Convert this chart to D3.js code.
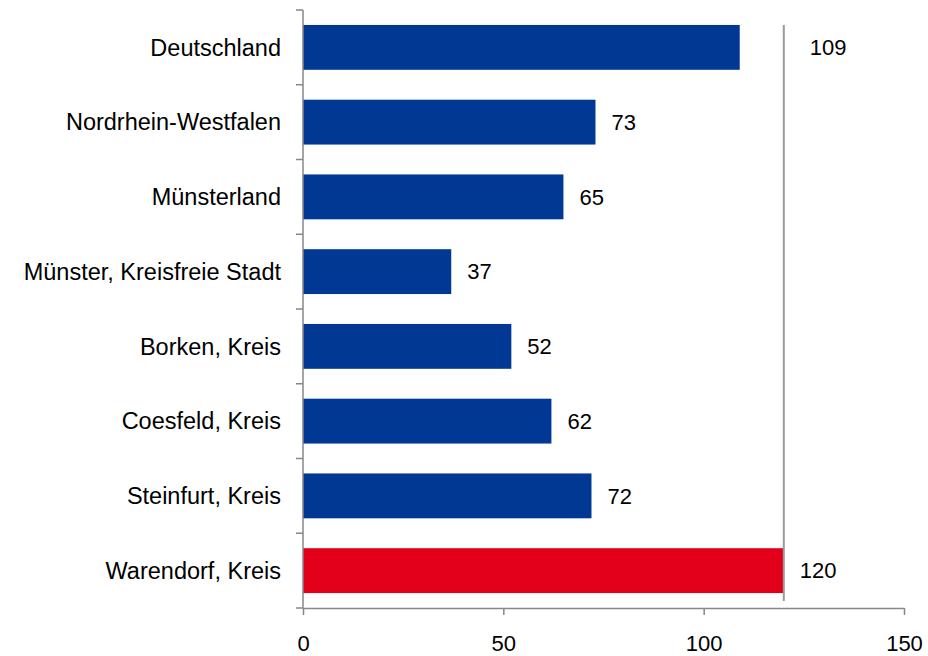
<!DOCTYPE html>
<html>
<head>
<meta charset="utf-8">
<script src="https://cdn.jsdelivr.net/npm/d3@7"></script>
<style>
  body { margin: 0; background: #fff; }
  text { font-family: "Liberation Sans", Arial, sans-serif; fill: #000; }
</style>
</head>
<body>
<div id="chart"></div>
<script>
// Data
const regions = ["Deutschland", "Nordrhein-Westfalen", "Münsterland", "Münster, Kreisfreie Stadt",
                 "Borken, Kreis", "Coesfeld, Kreis", "Steinfurt, Kreis", "Warendorf, Kreis"];
const values = [109, 73, 65, 37, 52, 62, 72, 120];
const highlight = "Warendorf, Kreis";
const xTicks = [0, 50, 100, 150];

const data = regions.map((r, i) => ({ region: r, value: values[i] }));
const refValue = values[regions.indexOf(highlight)];

// Dimensions
const W = 928, H = 656;
const margin = { top: 10, right: 24, bottom: 48, left: 303 };

const svg = d3.select("#chart")
    .append("svg")
    .attr("width", W)
    .attr("height", H);

const x = d3.scaleLinear()
    .domain([0, 150])
    .range([margin.left, W - margin.right]);

const y = d3.scaleBand()
    .domain(regions)
    .range([margin.top, H - margin.bottom])
    .paddingInner(0.4)
    .paddingOuter(0.2);

const axisColor = "#878787";
const fontSize = 22;

// Bars
svg.selectAll("rect.bar")
    .data(data)
    .enter()
    .append("rect")
    .attr("class", "bar")
    .attr("x", x(0))
    .attr("y", d => y(d.region))
    .attr("width", d => x(d.value) - x(0))
    .attr("height", y.bandwidth())
    .attr("fill", d => d.region === highlight ? "#e2001a" : "#003893");

// Reference line at the highlighted value
const refX = x(refValue);
svg.append("line")
    .attr("x1", refX).attr("x2", refX)
    .attr("y1", y(regions[0]))
    .attr("y2", H - margin.bottom - 7)
    .attr("stroke", "#9a9a9a")
    .attr("stroke-width", 2);

// Value labels (moved past the reference line if they would cross it)
svg.selectAll("text.val")
    .data(data)
    .enter()
    .append("text")
    .attr("class", "val")
    .attr("x", d => {
        const lx = x(d.value) + 16;
        return (d.value < refValue && lx + 36 > refX) ? refX + 26 : lx;
    })
    .attr("y", d => y(d.region) + y.bandwidth() / 2)
    .attr("dy", "0.35em")
    .style("font-size", fontSize + "px")
    .text(d => d.value);

// Y axis: line + ticks at band boundaries
const bottomY = H - margin.bottom;
svg.append("line")
    .attr("x1", margin.left).attr("x2", margin.left)
    .attr("y1", margin.top).attr("y2", bottomY)
    .attr("stroke", axisColor).attr("stroke-width", 1.5);

const bounds = regions.map(r => y(r) - y.step() * y.paddingInner() / 2).concat([bottomY]);
bounds[0] = margin.top;
svg.selectAll("line.ytick")
    .data(bounds)
    .enter()
    .append("line")
    .attr("class", "ytick")
    .attr("x1", margin.left - 7).attr("x2", margin.left)
    .attr("y1", d => d).attr("y2", d => d)
    .attr("stroke", axisColor).attr("stroke-width", 1.5);

svg.selectAll("text.cat")
    .data(regions)
    .enter()
    .append("text")
    .attr("class", "cat")
    .attr("x", margin.left - 22)
    .attr("y", d => y(d) + y.bandwidth() / 2)
    .attr("dy", "0.35em")
    .attr("text-anchor", "end")
    .style("font-size", "23.5px")
    .text(d => d);

// X axis
const xAxis = svg.append("g")
    .attr("transform", `translate(0,${bottomY})`)
    .call(d3.axisBottom(x).tickValues(xTicks).tickSize(7).tickPadding(20).tickSizeOuter(0));

xAxis.select(".domain").attr("stroke", axisColor).attr("stroke-width", 1.5);
xAxis.selectAll(".tick line").attr("stroke", axisColor).attr("stroke-width", 1.5);
xAxis.selectAll(".tick text")
    .style("font-size", fontSize + "px")
    .style("font-family", "'Liberation Sans', Arial, sans-serif")
    .attr("fill", "#000");
</script>
</body>
</html>
